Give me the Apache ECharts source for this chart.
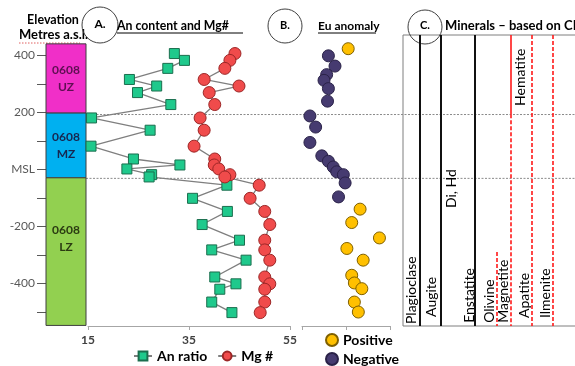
<!DOCTYPE html>
<html>
<head>
<meta charset="utf-8">
<script src="https://cdn.jsdelivr.net/npm/echarts@6.0.0/dist/echarts.min.js"></script>
<style>
html,body{margin:0;padding:0;background:#fff;}
#chart{width:575px;height:366px;}
</style>
</head>
<body>
<div id="chart"></div>
<script>
// ---------- DATA ----------
const elevTickValues = [400, 300, 200, 100, 0, -100, -200, -300, -400, -500];
const elevLabelValues = [400, 200, 0, -200, -400];

const zoneCode = '0608';
const zoneNames = ['UZ', 'MZ', 'LZ'];
const zoneTop = [440, 197, -30];
const zoneBottom = [197, -30, -548];
const zoneLabelElev = [318, 83, -245];

// Panel A (samples, top to bottom)
const sampleElev = [406, 382, 354, 315, 292, 269, 227, 180, 137, 81, 36, 15, 1, -19, -27,
  -56, -102, -148, -194, -249, -283, -319, -378, -402, -421, -466, -503];
const anRatio = [32.1, 34.1, 30.8, 23.2, 28.6, 24.8, 31.4, 15.7, 27.3, 15.6, 24.0, 33.2, 22.7, 27.6, 27.1,
  42.5, 35.7, 42.6, 37.6, 45.0, 39.5, 46.3, 40.1, 44.3, 41.1, 39.5, 43.5];
const mgNumber = [44.1, 43.1, 42.1, 38.0, 44.9, 39.0, 40.1, 37.2, 38.0, 36.0, 40.1, 40.0, 40.9, 43.1, 42.1,
  48.9, 47.1, 50.0, 51.0, 50.0, 50.0, 51.0, 50.0, 51.0, 50.0, 50.0, 49.1];
const panelATicks = [15, 35, 55];

// Panel B (Eu anomaly)
const posEuElev = [423, -140, -187, -241, -278, -319, -372, -399, -419, -466, -501];
const posEu = [1.05, 1.32, 1.13, 1.76, 1.02, 1.39, 1.13, 1.19, 1.36, 1.19, 1.28];
const negEuElev = [398, 362, 332, 312, 283, 239, 187, 148, 94, 47, 28, 8, -9, -19, -48, -97];
const negEu = [0.60, 0.75, 0.56, 0.50, 0.60, 0.58, 0.18, 0.31, 0.18, 0.45, 0.60, 0.71, 0.79, 0.94, 0.98, 0.83];

// Zone boundary lines (elevation)
const boundaryElev = [192, -32];

// Panel C (minerals): line slot, top / bottom elevation, kind
const mineralLineSlot = [8.5, 19, 36, 47, 54, 54, 64.5, 75];
const mineralLineTop = [471, 471, 471, -290, 471, 193, 471, 471];
const mineralLineBottom = [-550, -550, -550, -550, 193, -550, -550, -550];
const mineralLineKind = ['black', 'black', 'black', 'red-dash', 'red', 'red-dash', 'red-dash', 'red-dash'];

const mineralNames = ['Plagioclase', 'Augite', 'Di, Hd', 'Enstatite', 'Olivine', 'Magnetite', 'Hematite', 'Apatite', 'Ilmenite'];
const mineralSlot = [4, 14, 24, 33, 43, 50, 58.5, 60.5, 71];
const mineralLabelBase = [-543, -518, -136, -539, -539, -539, 222, -522, -522];

// ---------- STYLE ----------
const FONT = 'Lato, "Open Sans", sans-serif';
const zoneColors = ['#f02fc8', '#00b0f0', '#92d050'];
const zoneTextColors = ['#5e0f52', '#17264f', '#2b3b12'];
const lineKindStyle = {
  'black': {stroke: '#111', lineWidth: 2, lineDash: null},
  'red': {stroke: '#ff1a1a', lineWidth: 1.6, lineDash: null},
  'red-dash': {stroke: '#ff1a1a', lineWidth: 1.6, lineDash: [4, 2]}
};

const chart = echarts.init(document.getElementById('chart'), null, {renderer: 'canvas'});

const yBase = {type: 'value', min: -550, max: 450, show: false};

const option = {
  animation: false,
  backgroundColor: '#fff',
  textStyle: {fontFamily: FONT},
  grid: [
    {left: 46, top: 41, width: 40, height: 285},
    {left: 88, top: 41, width: 202, height: 285},
    {left: 302, top: 41, width: 88, height: 285},
    {left: 403, top: 35, width: 172, height: 291},
    {left: 86, top: 41, width: 489, height: 285}
  ],
  xAxis: [
    {gridIndex: 0, type: 'value', min: 0, max: 1, show: false},
    {gridIndex: 1, type: 'value', min: panelATicks[0], max: panelATicks[panelATicks.length - 1], interval: 20,
      axisLine: {onZero: false, lineStyle: {color: '#a6a6a6'}}, axisTick: {length: 4, lineStyle: {color: '#a6a6a6'}},
      axisLabel: {color: '#404040', fontSize: 12, fontWeight: 'bold', margin: 8, fontFamily: FONT},
      splitLine: {show: false}},
    {gridIndex: 2, type: 'value', min: 0, max: 2, interval: 1,
      axisLine: {onZero: false, lineStyle: {color: '#a6a6a6'}}, axisTick: {length: 4, lineStyle: {color: '#a6a6a6'}},
      axisLabel: {show: false}, splitLine: {show: false}},
    {gridIndex: 3, type: 'value', min: 0, max: 86, show: false},
    {gridIndex: 4, type: 'value', min: 0, max: 1, show: false}
  ],
  yAxis: [
    {gridIndex: 0, type: 'value', min: -550, max: 450,
      axisLine: {show: false},
      axisTick: {show: true, length: 9, customValues: elevTickValues, lineStyle: {color: '#595959'}},
      axisLabel: {customValues: elevLabelValues, color: '#595959', fontSize: 12, margin: 11, fontFamily: FONT,
        formatter: v => (v === 0 ? 'MSL' : String(v))},
      splitLine: {show: false}},
    Object.assign({gridIndex: 1}, yBase),
    Object.assign({gridIndex: 2}, yBase),
    {gridIndex: 3, type: 'value', min: -550, max: 471, show: false},
    Object.assign({gridIndex: 4}, yBase)
  ],
  legend: [
    {data: ['An ratio', 'Mg #'], left: 128, top: 344, itemWidth: 18, itemHeight: 11, itemGap: 10,
      selectedMode: false, textStyle: {fontFamily: FONT, fontWeight: 'bold', fontSize: 14, color: '#000'}},
    {data: ['Positive', 'Negative'], orient: 'vertical', left: 325, top: 333, padding: 0, height: 33,
      itemWidth: 12, itemHeight: 12, itemGap: 5,
      selectedMode: false, textStyle: {fontFamily: FONT, fontWeight: 'bold', fontSize: 14, color: '#000'}}
  ],
  series: [
    {
      type: 'custom', name: 'zones', xAxisIndex: 0, yAxisIndex: 0, silent: true, z: 2,
      data: zoneNames.map((n, i) => [0, zoneTop[i], zoneBottom[i], zoneLabelElev[i], i]),
      renderItem: function (params, api) {
        const i = api.value(4);
        const p1 = api.coord([0, api.value(1)]);
        const p2 = api.coord([1, api.value(2)]);
        const pl = api.coord([0.5, api.value(3)]);
        return {type: 'group', children: [
          {type: 'rect', shape: {x: p1[0], y: p1[1], width: p2[0] - p1[0], height: p2[1] - p1[1]},
            style: {fill: zoneColors[i], stroke: '#3f3f3f', lineWidth: 1}},
          {type: 'text', x: pl[0], y: pl[1],
            style: {text: zoneCode + '\n' + zoneNames[i], font: 'bold 12px ' + FONT, fill: zoneTextColors[i],
              align: 'center', verticalAlign: 'middle', lineHeight: 17}}
        ]};
      }
    },
    {
      type: 'custom', name: 'boundaries', xAxisIndex: 4, yAxisIndex: 4, silent: true, z: 1,
      data: boundaryElev.map(e => [0, e]),
      renderItem: function (params, api) {
        const a = api.coord([0, api.value(1)]);
        const b = api.coord([1, api.value(1)]);
        return {type: 'line', shape: {x1: a[0], y1: a[1], x2: b[0], y2: b[1]},
          style: {stroke: '#8a8a8a', lineWidth: 1, lineDash: [2, 1.5]}};
      }
    },
    {
      type: 'line', name: 'An ratio', xAxisIndex: 1, yAxisIndex: 1, z: 4,
      data: sampleElev.map((e, i) => [anRatio[i], e]),
      symbol: 'rect', symbolSize: 10,
      itemStyle: {color: '#1fc98c', borderColor: '#1b6e4e', borderWidth: 1},
      lineStyle: {color: '#7f7f7f', width: 1.3}
    },
    {
      type: 'line', name: 'Mg #', xAxisIndex: 1, yAxisIndex: 1, z: 4,
      data: sampleElev.map((e, i) => [mgNumber[i], e]),
      symbol: 'circle', symbolSize: 12,
      itemStyle: {color: '#f04b4b', borderColor: '#9c2626', borderWidth: 1},
      lineStyle: {color: '#7f7f7f', width: 1.3}
    },
    {
      type: 'scatter', name: 'Positive', xAxisIndex: 2, yAxisIndex: 2, z: 4,
      data: posEuElev.map((e, i) => [posEu[i], e]), symbolSize: 12,
      itemStyle: {color: '#ffc000', borderColor: '#7f6000', borderWidth: 1, opacity: 1}
    },
    {
      type: 'scatter', name: 'Negative', xAxisIndex: 2, yAxisIndex: 2, z: 4,
      data: negEuElev.map((e, i) => [negEu[i], e]), symbolSize: 12,
      itemStyle: {color: '#463b70', borderColor: '#2a2248', borderWidth: 1, opacity: 1}
    },
    {
      type: 'custom', name: 'mineral lines', xAxisIndex: 3, yAxisIndex: 3, silent: true, z: 3,
      data: mineralLineSlot.map((s, i) => [s, mineralLineTop[i], mineralLineBottom[i], i]),
      renderItem: function (params, api) {
        const i = api.value(3);
        const a = api.coord([api.value(0), api.value(1)]);
        const b = api.coord([api.value(0), api.value(2)]);
        const st = lineKindStyle[mineralLineKind[i]];
        return {type: 'line', shape: {x1: a[0], y1: a[1], x2: b[0], y2: b[1]},
          style: {stroke: st.stroke, lineWidth: st.lineWidth, lineDash: st.lineDash}};
      }
    },
    {
      type: 'custom', name: 'mineral labels', xAxisIndex: 3, yAxisIndex: 3, silent: true, z: 3,
      data: mineralSlot.map((s, i) => [s, mineralLabelBase[i], i]),
      renderItem: function (params, api) {
        const i = api.value(2);
        const p = api.coord([api.value(0), api.value(1)]);
        return {type: 'text', x: p[0], y: p[1], rotation: Math.PI / 2,
          style: {text: mineralNames[i], font: '14px ' + FONT, fill: '#000', align: 'left', verticalAlign: 'middle'}};
      }
    }
  ],
  graphic: [
    {type: 'rect', shape: {x: 403, y: 35, width: 220, height: 291}, style: {fill: 'none', stroke: '#7f7f7f', lineWidth: 1}, z: -1},
    {type: 'text', x: 53, y: 20, style: {text: 'Elevation', font: 'bold 12.5px ' + FONT, fill: '#000', align: 'center', verticalAlign: 'middle'}},
    {type: 'text', x: 19, y: 35, style: {text: 'Metres a.s.l.', font: 'bold 13px ' + FONT, fill: '#000', align: 'left', verticalAlign: 'middle'}},
    {type: 'line', shape: {x1: 19, y1: 43, x2: 80, y2: 43}, style: {stroke: '#e06060', lineWidth: 1, lineDash: [1.5, 1.5]}},
    {type: 'circle', shape: {cx: 100, cy: 25, r: 18}, style: {fill: 'rgba(0,0,0,0)', stroke: '#404040', lineWidth: 1}},
    {type: 'text', x: 100, y: 24, style: {text: 'A.', font: 'bold 12px ' + FONT, fill: '#000', align: 'center', verticalAlign: 'middle'}},
    {type: 'text', x: 117, y: 26, style: {text: 'An content and Mg#', font: 'bold 12.3px ' + FONT, fill: '#000', align: 'left', verticalAlign: 'middle'}},
    {type: 'line', shape: {x1: 117, y1: 33, x2: 243, y2: 33}, style: {stroke: '#000', lineWidth: 1}},
    {type: 'circle', shape: {cx: 285, cy: 26, r: 17}, style: {fill: 'rgba(0,0,0,0)', stroke: '#404040', lineWidth: 1}},
    {type: 'text', x: 285, y: 25, style: {text: 'B.', font: 'bold 11px ' + FONT, fill: '#000', align: 'center', verticalAlign: 'middle'}},
    {type: 'text', x: 318, y: 26, style: {text: 'Eu anomaly', font: 'bold 12px ' + FONT, fill: '#000', align: 'left', verticalAlign: 'middle'}},
    {type: 'line', shape: {x1: 318, y1: 33, x2: 376, y2: 33}, style: {stroke: '#000', lineWidth: 1}},
    {type: 'circle', shape: {cx: 425, cy: 27, r: 17}, style: {fill: 'rgba(0,0,0,0)', stroke: '#404040', lineWidth: 1}},
    {type: 'text', x: 425, y: 25, style: {text: 'C.', font: 'bold 11px ' + FONT, fill: '#000', align: 'center', verticalAlign: 'middle'}},
    {type: 'text', x: 445, y: 26, style: {text: 'Minerals – based on CIPW norms', font: 'bold 13px ' + FONT, fill: '#000', align: 'left', verticalAlign: 'middle'}}
  ]
};

chart.setOption(option);
</script>
</body>
</html>
